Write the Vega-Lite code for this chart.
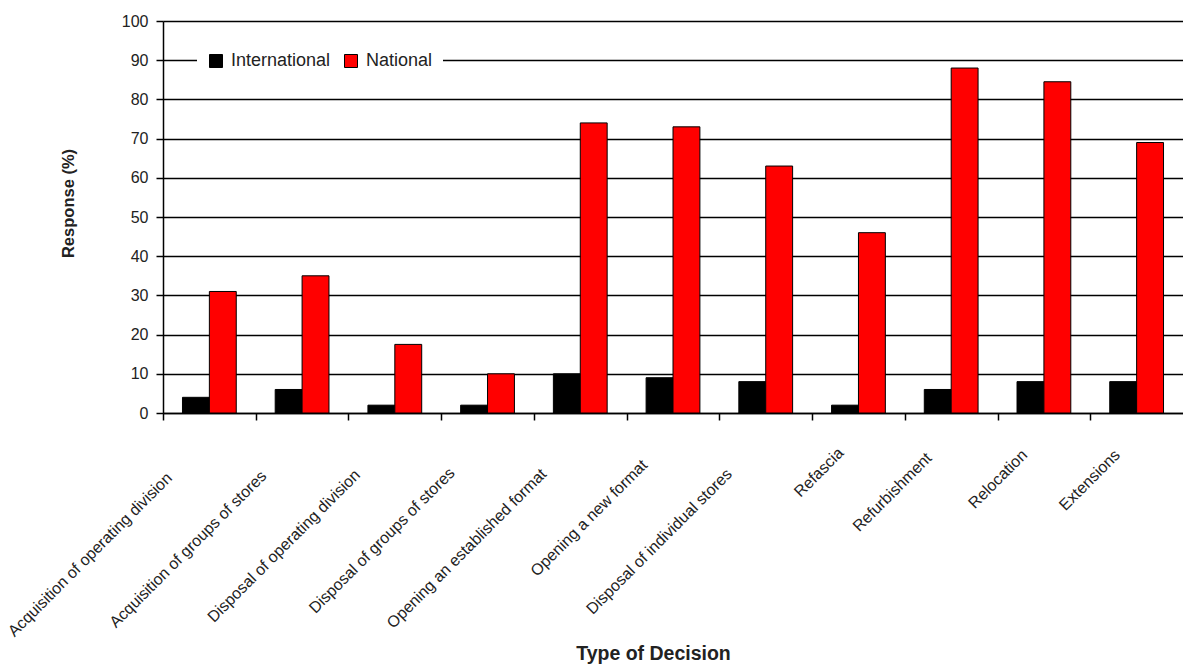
{
  "$schema": "https://vega.github.io/schema/vega-lite/v6.json",
  "width": 1020,
  "height": 392,
  "autosize": {"type": "none"},
  "padding": {"left": 163, "top": 21, "right": 0, "bottom": 253},
  "background": "white",
  "config": {"font": "Liberation Sans", "view": {"stroke": null}},
  "data": {
    "values": [
      {"decision": "Acquisition of operating division", "scope": "International", "response": 4},
      {"decision": "Acquisition of operating division", "scope": "National", "response": 31},
      {"decision": "Acquisition of groups of stores", "scope": "International", "response": 6},
      {"decision": "Acquisition of groups of stores", "scope": "National", "response": 35},
      {"decision": "Disposal of operating division", "scope": "International", "response": 2},
      {"decision": "Disposal of operating division", "scope": "National", "response": 17.5},
      {"decision": "Disposal of groups of stores", "scope": "International", "response": 2},
      {"decision": "Disposal of groups of stores", "scope": "National", "response": 10},
      {"decision": "Opening an established format", "scope": "International", "response": 10},
      {"decision": "Opening an established format", "scope": "National", "response": 74},
      {"decision": "Opening a new format", "scope": "International", "response": 9},
      {"decision": "Opening a new format", "scope": "National", "response": 73},
      {"decision": "Disposal of individual stores", "scope": "International", "response": 8},
      {"decision": "Disposal of individual stores", "scope": "National", "response": 63},
      {"decision": "Refascia", "scope": "International", "response": 2},
      {"decision": "Refascia", "scope": "National", "response": 46},
      {"decision": "Refurbishment", "scope": "International", "response": 6},
      {"decision": "Refurbishment", "scope": "National", "response": 88},
      {"decision": "Relocation", "scope": "International", "response": 8},
      {"decision": "Relocation", "scope": "National", "response": 84.5},
      {"decision": "Extensions", "scope": "International", "response": 8},
      {"decision": "Extensions", "scope": "National", "response": 69}
    ]
  },
  "mark": {"type": "bar", "stroke": "black", "strokeWidth": 1},
  "encoding": {
    "x": {
      "field": "decision",
      "type": "nominal",
      "sort": null,
      "scale": {"paddingInner": 0.42, "paddingOuter": 0.21},
      "axis": {
        "title": "Type of Decision",
        "labelAngle": -45,
        "labelAlign": "right",
        "labelBaseline": "middle",
        "labelFontSize": 16,
        "labelColor": "#222222",
        "labelPadding": {"expr": "31 + 1.0 * (length(datum.label) - 9)"},
        "tickOffset": -46.36,
        "labelOffset": {"expr": "27.5 - 0.9 * (length(datum.label) - 9)"},
        "labelLimit": 400,
        "tickSize": 7,
        "tickColor": "black",
        "tickWidth": 1.5,
        "domainColor": "black",
        "domainWidth": 1.5,
        "titleFontSize": 19.5,
        "titleFontWeight": "bold",
        "titleColor": "#222222",
        "titleX": 490,
        "titleY": 240,
        "titleBaseline": "middle",
        "titleAlign": "center"
      }
    },
    "xOffset": {"field": "scope", "type": "nominal"},
    "y": {
      "field": "response",
      "type": "quantitative",
      "scale": {"domain": [0, 100]},
      "axis": {
        "title": "Response (%)",
        "values": [0, 10, 20, 30, 40, 50, 60, 70, 80, 90, 100],
        "grid": true,
        "gridColor": "black",
        "gridWidth": 1.5,
        "gridOpacity": 1,
        "domainColor": "black",
        "domainWidth": 1.5,
        "tickColor": "black",
        "tickWidth": 1.5,
        "tickSize": 7,
        "labelPadding": 8,
        "labelFontSize": 16,
        "labelColor": "#222222",
        "titleFontSize": 16.5,
        "titleFontWeight": "bold",
        "titleColor": "#222222",
        "titleX": -95,
        "titleY": 182,
        "titleAngle": -90,
        "titleBaseline": "middle",
        "titleAlign": "center"
      }
    },
    "color": {
      "field": "scope",
      "type": "nominal",
      "scale": {"domain": ["International", "National"], "range": ["#000000", "#ff0000"]},
      "legend": {
        "title": null,
        "orient": "none",
        "legendX": 34,
        "legendY": 21,
        "direction": "horizontal",
        "fillColor": "white",
        "padding": 10,
        "symbolType": "square",
        "symbolSize": 169,
        "symbolStrokeColor": "black",
        "symbolStrokeWidth": 1,
        "symbolOpacity": 1,
        "labelOffset": 6,
        "labelFontSize": 18,
        "labelColor": "#222222",
        "columnPadding": 11
      }
    }
  }
}
